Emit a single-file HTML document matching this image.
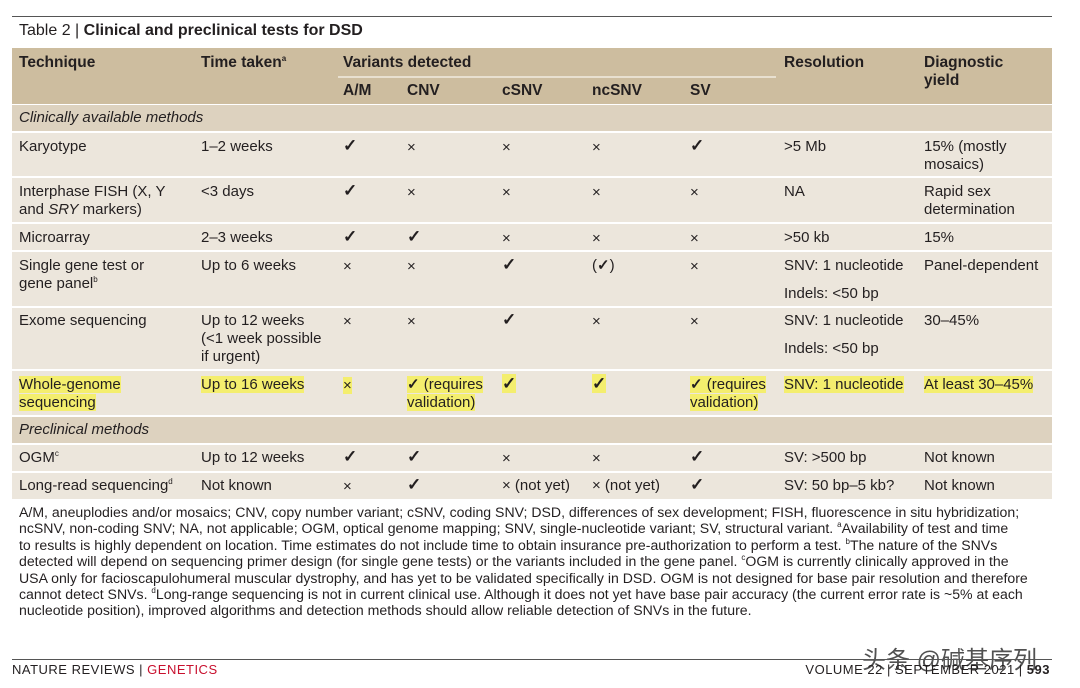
<!DOCTYPE html>
<html><head><meta charset="utf-8">
<style>
body{margin:0;background:#fff;width:1080px;height:688px;position:relative;overflow:hidden;font-family:"Liberation Sans",sans-serif;color:#231f20}
.a{position:absolute;white-space:nowrap}
.band{position:absolute;left:12px;width:1040px}
.t{position:absolute;font-size:15px;line-height:18px;white-space:nowrap}
.h{font-weight:bold;font-size:15.5px}
.hl{background:#f4ee6e}
.fn{position:absolute;left:19px;font-size:14.1px;letter-spacing:0;white-space:nowrap;line-height:16px}
.x{font-size:15px}
.c{font-size:17px;font-weight:bold}
sup{font-size:8px;line-height:0;vertical-align:6px}
</style></head><body>
<div class="a" style="left:12px;top:16px;width:1040px;height:1px;background:#555"></div>
<div class="a" style="left:19px;top:22px;font-size:16px">Table 2 | <b>Clinical and preclinical tests for DSD</b></div>

<div class="band" style="top:48px;height:56px;background:#cdbd9f"></div>
<div class="a" style="left:338px;top:76px;width:438px;height:2px;background:#e8e0d0"></div>
<div class="band" style="top:105px;height:26px;background:#ddd2bf"></div>
<div class="band" style="top:133px;height:43px;background:#ece6dc"></div>
<div class="band" style="top:178px;height:44px;background:#ece6dc"></div>
<div class="band" style="top:224px;height:26px;background:#ece6dc"></div>
<div class="band" style="top:252px;height:54px;background:#ece6dc"></div>
<div class="band" style="top:308px;height:61px;background:#ece6dc"></div>
<div class="band" style="top:371px;height:44px;background:#ece6dc"></div>
<div class="band" style="top:417px;height:26px;background:#ddd2bf"></div>
<div class="band" style="top:445px;height:26px;background:#ece6dc"></div>
<div class="band" style="top:473px;height:26px;background:#ece6dc"></div>

<div class="t h" style="left:19px;top:54px">Technique</div>
<div class="t h" style="left:201px;top:54px">Time taken<sup>a</sup></div>
<div class="t h" style="left:343px;top:54px">Variants detected</div>
<div class="t h" style="left:784px;top:54px">Resolution</div>
<div class="t h" style="left:924px;top:54px;line-height:18px">Diagnostic<br>yield</div>
<div class="t h" style="left:343px;top:82px">A/M</div>
<div class="t h" style="left:407px;top:82px">CNV</div>
<div class="t h" style="left:502px;top:82px">cSNV</div>
<div class="t h" style="left:592px;top:82px">ncSNV</div>
<div class="t h" style="left:690px;top:82px">SV</div>

<div class="t" style="left:19px;top:109px;font-style:italic">Clinically available methods</div>
<div class="t" style="left:19px;top:421px;font-style:italic">Preclinical methods</div>

<!-- Karyotype -->
<div class="t" style="left:19px;top:138px">Karyotype</div>
<div class="t" style="left:201px;top:138px">1–2 weeks</div>
<div class="t c" style="left:343px;top:137px">✓</div>
<div class="t x" style="left:407px;top:139px">×</div>
<div class="t x" style="left:502px;top:139px">×</div>
<div class="t x" style="left:592px;top:139px">×</div>
<div class="t c" style="left:690px;top:137px">✓</div>
<div class="t" style="left:784px;top:138px">&gt;5 Mb</div>
<div class="t" style="left:924px;top:138px">15% (mostly<br>mosaics)</div>
<!-- FISH -->
<div class="t" style="left:19px;top:183px">Interphase FISH (X, Y<br>and <i>SRY</i> markers)</div>
<div class="t" style="left:201px;top:183px">&lt;3 days</div>
<div class="t c" style="left:343px;top:182px">✓</div>
<div class="t x" style="left:407px;top:184px">×</div>
<div class="t x" style="left:502px;top:184px">×</div>
<div class="t x" style="left:592px;top:184px">×</div>
<div class="t x" style="left:690px;top:184px">×</div>
<div class="t" style="left:784px;top:183px">NA</div>
<div class="t" style="left:924px;top:183px">Rapid sex<br>determination</div>
<!-- Microarray -->
<div class="t" style="left:19px;top:229px">Microarray</div>
<div class="t" style="left:201px;top:229px">2–3 weeks</div>
<div class="t c" style="left:343px;top:228px">✓</div>
<div class="t c" style="left:407px;top:228px">✓</div>
<div class="t x" style="left:502px;top:230px">×</div>
<div class="t x" style="left:592px;top:230px">×</div>
<div class="t x" style="left:690px;top:230px">×</div>
<div class="t" style="left:784px;top:229px">&gt;50 kb</div>
<div class="t" style="left:924px;top:229px">15%</div>
<!-- Single gene -->
<div class="t" style="left:19px;top:257px">Single gene test or<br>gene panel<sup>b</sup></div>
<div class="t" style="left:201px;top:257px">Up to 6 weeks</div>
<div class="t x" style="left:343px;top:258px">×</div>
<div class="t x" style="left:407px;top:258px">×</div>
<div class="t c" style="left:502px;top:256px">✓</div>
<div class="t" style="left:592px;top:257px">(<b>✓</b>)</div>
<div class="t x" style="left:690px;top:258px">×</div>
<div class="t" style="left:784px;top:252px;line-height:28px">SNV: 1 nucleotide<br>Indels: &lt;50 bp</div>
<div class="t" style="left:924px;top:257px">Panel-dependent</div>
<!-- Exome -->
<div class="t" style="left:19px;top:312px">Exome sequencing</div>
<div class="t" style="left:201px;top:312px">Up to 12 weeks<br>(&lt;1 week possible<br>if urgent)</div>
<div class="t x" style="left:343px;top:313px">×</div>
<div class="t x" style="left:407px;top:313px">×</div>
<div class="t c" style="left:502px;top:311px">✓</div>
<div class="t x" style="left:592px;top:313px">×</div>
<div class="t x" style="left:690px;top:313px">×</div>
<div class="t" style="left:784px;top:307px;line-height:28px">SNV: 1 nucleotide<br>Indels: &lt;50 bp</div>
<div class="t" style="left:924px;top:312px">30–45%</div>
<!-- WGS -->
<div class="t" style="left:19px;top:376px"><span class="hl">Whole-genome</span><br><span class="hl">sequencing</span></div>
<div class="t" style="left:201px;top:376px"><span class="hl">Up to 16 weeks</span></div>
<div class="t x" style="left:343px;top:377px"><span class="hl">×</span></div>
<div class="t" style="left:407px;top:376px"><span class="hl"><b>✓</b> (requires</span><br><span class="hl">validation)</span></div>
<div class="t c" style="left:502px;top:375px"><span class="hl">✓</span></div>
<div class="t c" style="left:592px;top:375px"><span class="hl">✓</span></div>
<div class="t" style="left:690px;top:376px"><span class="hl"><b>✓</b> (requires</span><br><span class="hl">validation)</span></div>
<div class="t" style="left:784px;top:376px"><span class="hl">SNV: 1 nucleotide</span></div>
<div class="t" style="left:924px;top:376px"><span class="hl">At least 30–45%</span></div>
<!-- OGM -->
<div class="t" style="left:19px;top:449px">OGM<sup>c</sup></div>
<div class="t" style="left:201px;top:449px">Up to 12 weeks</div>
<div class="t c" style="left:343px;top:448px">✓</div>
<div class="t c" style="left:407px;top:448px">✓</div>
<div class="t x" style="left:502px;top:450px">×</div>
<div class="t x" style="left:592px;top:450px">×</div>
<div class="t c" style="left:690px;top:448px">✓</div>
<div class="t" style="left:784px;top:449px">SV: &gt;500 bp</div>
<div class="t" style="left:924px;top:449px">Not known</div>
<!-- Long read -->
<div class="t" style="left:19px;top:477px">Long-read sequencing<sup>d</sup></div>
<div class="t" style="left:201px;top:477px">Not known</div>
<div class="t x" style="left:343px;top:478px">×</div>
<div class="t c" style="left:407px;top:476px">✓</div>
<div class="t" style="left:502px;top:477px">× (not yet)</div>
<div class="t" style="left:592px;top:477px">× (not yet)</div>
<div class="t c" style="left:690px;top:476px">✓</div>
<div class="t" style="left:784px;top:477px">SV: 50 bp–5 kb?</div>
<div class="t" style="left:924px;top:477px">Not known</div>

<div>
<div class="fn" style="top:504px">A/M, aneuplodies and/or mosaics; CNV, copy number variant; cSNV, coding SNV; DSD, differences of sex development; FISH, fluorescence in situ hybridization;</div>
<div class="fn" style="top:520px">ncSNV, non-coding SNV; NA, not applicable; OGM, optical genome mapping; SNV, single-nucleotide variant; SV, structural variant. <sup>a</sup>Availability of test and time</div>
<div class="fn" style="top:537px">to results is highly dependent on location. Time estimates do not include time to obtain insurance pre-authorization to perform a test. <sup>b</sup>The nature of the SNVs</div>
<div class="fn" style="top:553px">detected will depend on sequencing primer design (for single gene tests) or the variants included in the gene panel. <sup>c</sup>OGM is currently clinically approved in the</div>
<div class="fn" style="top:570px">USA only for facioscapulohumeral muscular dystrophy, and has yet to be validated specifically in DSD. OGM is not designed for base pair resolution and therefore</div>
<div class="fn" style="top:586px">cannot detect SNVs. <sup>d</sup>Long-range sequencing is not in current clinical use. Although it does not yet have base pair accuracy (the current error rate is ~5% at each</div>
<div class="fn" style="top:602px">nucleotide position), improved algorithms and detection methods should allow reliable detection of SNVs in the future.</div>
</div>

<div class="a" style="left:862px;top:640px;font-family:'Liberation Sans','Noto Sans CJK SC',sans-serif;font-size:24px;color:#333;opacity:0.85">头条 @碱基序列</div>
<div class="a" style="left:12px;top:659px;width:1040px;height:1px;background:#555"></div>
<div class="a" style="left:12px;top:662px;font-size:13px;letter-spacing:0.5px">NATURE REVIEWS | <span style="color:#c8102e">GENETICS</span></div>
<div class="a" style="right:30px;top:662px;font-size:13px;letter-spacing:0.5px">VOLUME 22 | SEPTEMBER 2021 | <b>593</b></div>
</body></html>
